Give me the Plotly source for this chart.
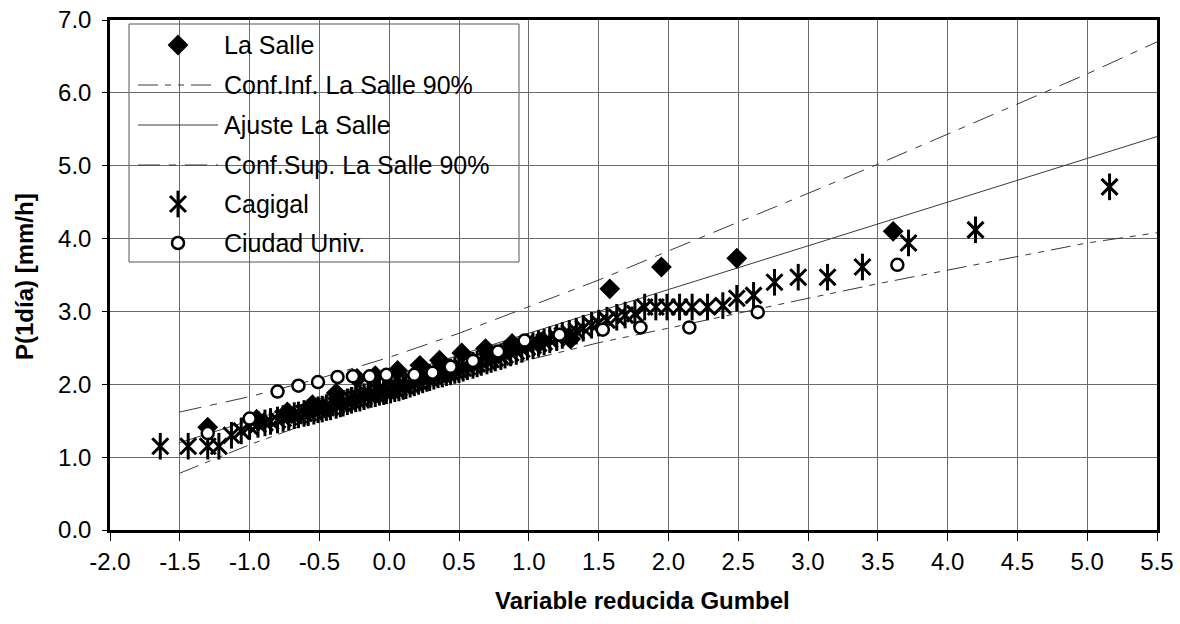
import plotly.graph_objects as go

# ---------------- data ----------------
fit_x = [-1.5, -1.0, -0.5, 0.0, 0.5, 1.0, 1.5, 2.0, 2.5, 3.0, 3.5, 4.0, 4.5, 5.0, 5.5]
fit_y = [1.20, 1.50, 1.80, 2.10, 2.40, 2.70, 3.00, 3.30, 3.60, 3.90, 4.20, 4.50, 4.80, 5.10, 5.40]
conf_sup = [1.62, 1.83, 2.08, 2.37, 2.70, 3.06, 3.43, 3.83, 4.22, 4.62, 5.02, 5.43, 5.84, 6.26, 6.70]
conf_inf = [0.78, 1.17, 1.52, 1.83, 2.10, 2.34, 2.57, 2.77, 2.98, 3.18, 3.38, 3.57, 3.76, 3.94, 4.08]

lasalle_x = [-1.30, -0.95, -0.73, -0.55, -0.38, -0.23, -0.10, 0.06, 0.22, 0.36, 0.52, 0.69, 0.88,
             1.08, 1.30, 1.58, 1.95, 2.49, 3.61]
lasalle_y = [1.41, 1.52, 1.62, 1.72, 1.88, 2.08, 2.12, 2.19, 2.26, 2.33, 2.43, 2.49, 2.56,
             2.58, 2.62, 3.31, 3.61, 3.73, 4.10]

cagigal_x = [-1.64, -1.44, -1.30, -1.22, -1.13, -1.06, -1.00, -0.94, -0.89, -0.85,
             -0.80, -0.76, -0.72, -0.68, -0.65, -0.61, -0.58, -0.54, -0.51, -0.48,
             -0.45, -0.42, -0.38, -0.35, -0.33, -0.30, -0.27, -0.24, -0.21, -0.18,
             -0.15, -0.13, -0.10, -0.07, -0.04, -0.02, 0.01, 0.04, 0.07, 0.10,
             0.12, 0.15, 0.18, 0.21, 0.24, 0.27, 0.29, 0.32, 0.35, 0.38,
             0.41, 0.44, 0.47, 0.50, 0.53, 0.56, 0.60, 0.63, 0.66, 0.70,
             0.73, 0.76, 0.80, 0.83, 0.87, 0.91, 0.95, 0.99, 1.03, 1.07,
             1.11, 1.15, 1.20, 1.24, 1.29, 1.34, 1.39, 1.45, 1.50, 1.56,
             1.63, 1.69, 1.76, 1.83, 1.91, 1.99, 2.08, 2.17, 2.28, 2.39,
             2.49, 2.61, 2.76, 2.93, 3.14, 3.39, 3.72, 4.20, 5.16]
cagigal_y = [1.15, 1.15, 1.15, 1.15, 1.30, 1.36, 1.42, 1.45, 1.47, 1.49,
             1.51, 1.53, 1.55, 1.57, 1.58, 1.60, 1.61, 1.63, 1.65, 1.66,
             1.68, 1.69, 1.71, 1.73, 1.74, 1.76, 1.78, 1.80, 1.81, 1.83,
             1.85, 1.86, 1.87, 1.89, 1.90, 1.91, 1.92, 1.94, 1.95, 1.97,
             1.98, 2.00, 2.02, 2.04, 2.06, 2.08, 2.09, 2.11, 2.13, 2.14,
             2.16, 2.17, 2.19, 2.20, 2.22, 2.24, 2.26, 2.28, 2.30, 2.32,
             2.34, 2.36, 2.38, 2.40, 2.43, 2.45, 2.48, 2.51, 2.53, 2.56,
             2.58, 2.61, 2.64, 2.67, 2.70, 2.73, 2.77, 2.81, 2.84, 2.88,
             2.92, 2.95, 2.97, 3.06, 3.06, 3.06, 3.06, 3.06, 3.06, 3.08,
             3.18, 3.22, 3.40, 3.47, 3.47, 3.61, 3.94, 4.12, 4.71]

ciudad_x = [-1.30, -1.00, -0.80, -0.65, -0.51, -0.37, -0.26, -0.14, -0.02, 0.18, 0.31, 0.44,
            0.60, 0.78, 0.97, 1.22, 1.53, 1.80, 2.15, 2.64, 3.64]
ciudad_y = [1.33, 1.53, 1.90, 1.98, 2.03, 2.10, 2.11, 2.11, 2.13, 2.13, 2.16, 2.24,
            2.32, 2.45, 2.60, 2.68, 2.75, 2.78, 2.78, 2.99, 3.64]

legend_names = ["La Salle", "Conf.Inf. La Salle 90%", "Ajuste La Salle",
                "Conf.Sup. La Salle 90%", "Cagigal", "Ciudad Univ."]

x_ticks = [-2.0, -1.5, -1.0, -0.5, 0.0, 0.5, 1.0, 1.5, 2.0, 2.5, 3.0, 3.5, 4.0, 4.5, 5.0, 5.5]
y_ticks = [0.0, 1.0, 2.0, 3.0, 4.0, 5.0, 6.0, 7.0]

# ---------------- styles ----------------
FONT = "Liberation Sans, Arial, sans-serif"
DASH_INF = "20px,7px,6px,7px,6px,7px"
DASH_SUP = "22px,9px,7px,9px"
LINE_COL = "#3a3a3a"

fig = go.Figure()

fig.add_trace(go.Scatter(x=fit_x, y=conf_inf, mode="lines", name=legend_names[1],
                         line=dict(color=LINE_COL, width=1, dash=DASH_INF), showlegend=False))
fig.add_trace(go.Scatter(x=fit_x, y=fit_y, mode="lines", name=legend_names[2],
                         line=dict(color=LINE_COL, width=1), showlegend=False))
fig.add_trace(go.Scatter(x=fit_x, y=conf_sup, mode="lines", name=legend_names[3],
                         line=dict(color=LINE_COL, width=1, dash=DASH_SUP), showlegend=False))

ast_x = dict(symbol="x-thin-open", size=16, color="black", line=dict(color="black", width=3))
ast_v = dict(symbol="line-ns-open", size=19, color="black", line=dict(color="black", width=3))
diam = dict(symbol="diamond", size=16, color="black", line=dict(color="black", width=0))
circ = dict(symbol="circle", size=12, color="white", line=dict(color="black", width=2.5))

fig.add_trace(go.Scatter(x=cagigal_x, y=cagigal_y, mode="markers", name=legend_names[4],
                         marker=ast_x, showlegend=False))
fig.add_trace(go.Scatter(x=cagigal_x, y=cagigal_y, mode="markers", name=legend_names[4],
                         marker=ast_v, showlegend=False))
fig.add_trace(go.Scatter(x=lasalle_x, y=lasalle_y, mode="markers", name=legend_names[0],
                         marker=diam, showlegend=False))
fig.add_trace(go.Scatter(x=ciudad_x, y=ciudad_y, mode="markers", name=legend_names[5],
                         marker=circ, showlegend=False))

# ---------------- manual legend (positions in pixels) ----------------
# plot area spans x 110..1157, y 20..530
W_PLOT = 1047.0
H_PLOT = 510.0
def px_x(p):  # pixel -> paper x
    return (p - 110) / W_PLOT
def px_y(p):
    return (530 - p) / H_PLOT

item_y = [45, 85, 125, 165, 204, 243]

shapes = [dict(type="rect", xref="paper", yref="paper", x0=px_x(129), x1=px_x(519),
               y0=px_y(262), y1=px_y(24), line=dict(color="#555", width=1),
               fillcolor="white", layer="between")]
dashes = [None, DASH_INF, "solid", DASH_SUP, None, None]
for i, d in enumerate(dashes):
    if d is None:
        continue
    shapes.append(dict(type="line", xref="paper", yref="paper", x0=px_x(138), x1=px_x(218),
                       y0=px_y(item_y[i]), y1=px_y(item_y[i]),
                       line=dict(color=LINE_COL, width=1, dash=d), layer="above"))

annotations = []
for i, nm in enumerate(legend_names):
    annotations.append(dict(text=nm, xref="paper", yref="paper", x=px_x(222), y=px_y(item_y[i]),
                            xanchor="left", yanchor="middle", showarrow=False,
                            font=dict(family=FONT, size=25, color="black")))

annotations.append(dict(text="<b>Variable reducida Gumbel</b>", xref="paper", yref="paper",
                        x=px_x(642), y=px_y(600), xanchor="center", yanchor="middle",
                        showarrow=False, font=dict(family=FONT, size=24, color="black")))
annotations.append(dict(text="<b>P(1día) [mm/h]</b>", xref="paper", yref="paper",
                        x=px_x(24), y=px_y(277), xanchor="center", yanchor="middle",
                        textangle=-90, showarrow=False,
                        font=dict(family=FONT, size=24, color="black")))

# legend markers on an overlay axis spanning the plot area (0..1)
lx = px_x(178)
fig.add_trace(go.Scatter(x=[lx], y=[px_y(item_y[0])], mode="markers", marker=diam,
                         xaxis="x2", yaxis="y2", showlegend=False, hoverinfo="skip"))
fig.add_trace(go.Scatter(x=[lx], y=[px_y(item_y[4])], mode="markers", marker=ast_x,
                         xaxis="x2", yaxis="y2", showlegend=False, hoverinfo="skip"))
fig.add_trace(go.Scatter(x=[lx], y=[px_y(item_y[4])], mode="markers", marker=ast_v,
                         xaxis="x2", yaxis="y2", showlegend=False, hoverinfo="skip"))
fig.add_trace(go.Scatter(x=[lx], y=[px_y(item_y[5])], mode="markers", marker=circ,
                         xaxis="x2", yaxis="y2", showlegend=False, hoverinfo="skip"))

axis_common = dict(showgrid=True, gridcolor="#6a6a6a", gridwidth=1, zeroline=False,
                   showline=True, linecolor="black", linewidth=2.5, mirror=True,
                   ticks="outside", tickcolor="black", tickwidth=1, automargin=False,
                   tickfont=dict(family=FONT, size=24, color="black"))

fig.update_layout(
    width=1180, height=624,
    margin=dict(l=110, r=23, t=20, b=94),
    paper_bgcolor="white", plot_bgcolor="white",
    showlegend=False,
    xaxis=dict(range=[-2.0, 5.5], tickvals=x_ticks, ticktext=[f"{v:.1f}" for v in x_ticks],
               ticklen=8, **axis_common),
    yaxis=dict(range=[0.0, 7.0], tickvals=y_ticks, ticktext=[f"{v:.1f}" for v in y_ticks],
               ticklen=5, ticklabelstandoff=6, **axis_common),
    xaxis2=dict(range=[0, 1], overlaying="x", visible=False, fixedrange=True),
    yaxis2=dict(range=[0, 1], overlaying="y", visible=False, fixedrange=True),
    shapes=shapes,
    annotations=annotations,
)

fig.write_html("out.html", config={"displayModeBar": False},
               post_script="document.body.style.margin='0px';document.body.style.overflow='hidden';")
